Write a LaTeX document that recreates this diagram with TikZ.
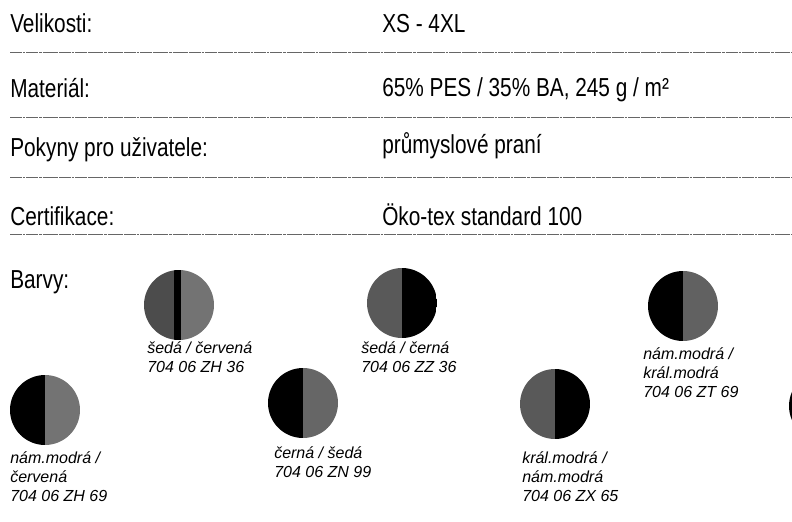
\documentclass[tikz,border=0pt]{standalone}
\usepackage{fontspec}
\setmainfont{Liberation Sans}
\newfontfamily\narrowfont{Liberation Sans}[FakeStretch=0.8]
\usetikzlibrary{positioning}

\tikzset{
    rowtext/.style={font=\narrowfont\fontsize{19.5}{23}\selectfont, anchor=base west, inner sep=0pt},
    colourtext/.style={font=\itshape\fontsize{12}{14.6}\selectfont, anchor=north west, align=left, inner sep=0pt},
    ruleline/.style={draw=black!60, line width=0.45pt, dash pattern=on 9pt off 0.6pt on 2pt off 0.6pt},
    swatch/.style 2 args={circle, inner sep=0pt, minimum size=52.5pt,
        path picture={
            \fill[#1] (path picture bounding box.south west) rectangle (path picture bounding box.north);
            \fill[#2] (path picture bounding box.south) rectangle (path picture bounding box.north east);
        }},
    striped swatch/.style 2 args={circle, inner sep=0pt, minimum size=52.5pt,
        path picture={
            \fill[#1] (path picture bounding box.south west) rectangle (path picture bounding box.north);
            \fill[#2] (path picture bounding box.south) rectangle (path picture bounding box.north east);
            \fill[black] ([xshift=-3.75pt]path picture bounding box.south) rectangle ([xshift=1.5pt]path picture bounding box.north);
        }}
}

\begin{document}
\begin{tikzpicture}[x=0.75pt, y=-0.75pt]
    \useasboundingbox (0,0) rectangle (792,521);
    \clip (0,0) rectangle (792,521);

    % table rows
    \node[rowtext] (velikosti) at (10,32) {Velikosti:};
    \node[rowtext] (velikostival) at (382,32) {XS - 4XL};
    \node[rowtext] (material) at (10,97) {Materiál:};
    \node[rowtext] (materialval) at (382,96) {65\% PES / 35\% BA, 245 g / m²};
    \node[rowtext] (pokyny) at (10,156) {Pokyny pro uživatele:};
    \node[rowtext] (pokynyval) at (382,153) {průmyslové praní};
    \node[rowtext] (certifikace) at (10,225) {Certifikace:};
    \node[rowtext] (certifikaceval) at (382,225) {Öko-tex standard 100};
    \node[rowtext] (barvy) at (10,288) {Barvy:};

    \foreach \y in {52,117,177,234}
        \draw[ruleline] (10,\y) -- (792,\y);

    % colour swatches
    \node[striped swatch={black!70}{black!55}] (sedacervena) at (179,305) {};
    \node[swatch={black!65}{black}] (sedacerna) at (402,303) {};
    \node[swatch={black}{black!60}] (cernaseda) at (303,403) {};
    \node[swatch={black}{black!62}] (namkral) at (683,306) {};
    \node[swatch={black!65}{black}] (kralnam) at (555,404) {};
    \node[swatch={black}{black!55}] (namcervena) at (45,410) {};
    \node[swatch={black}{black!60}] (cutoff) at (824,406) {};

    \node[colourtext] (sedacervenatext) at (147,341) {šedá / červená\\704 06 ZH 36};
    \node[colourtext] (sedacernatext) at (361,341) {šedá / černá\\704 06 ZZ 36};
    \node[colourtext] (cernasedatext) at (274,446) {černá / šedá\\704 06 ZN 99};
    \node[colourtext] (namkraltext) at (643,347) {nám.modrá /\\král.modrá\\704 06 ZT 69};
    \node[colourtext] (kralnamtext) at (522,451) {král.modrá /\\nám.modrá\\704 06 ZX 65};
    \node[colourtext] (namcervenatext) at (10,451) {nám.modrá /\\červená\\704 06 ZH 69};
\end{tikzpicture}
\end{document}
